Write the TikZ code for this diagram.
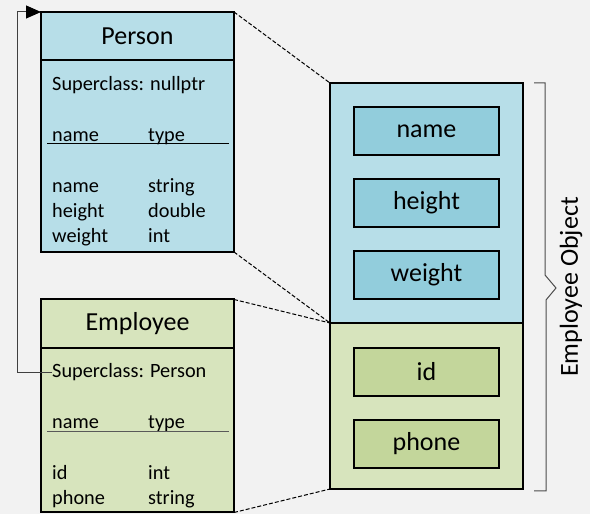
\documentclass[tikz,border=0pt]{standalone}
\usepackage{fontspec}
\setmainfont{Carlito}
\usetikzlibrary{positioning, arrows.meta}

\definecolor{bg}{HTML}{F2F2F2}
\definecolor{personblue}{HTML}{B7DEE8}
\definecolor{fieldblue}{HTML}{92CDDC}
\definecolor{empgreen}{HTML}{D7E4BD}
\definecolor{fieldgreen}{HTML}{C3D69B}

\tikzset{
  classbox/.style={draw, line width=2pt, outer sep=0pt, minimum width=193pt, minimum height=#1},
  classtitle/.style={inner sep=0pt, anchor=base, font=\fontsize{26}{30}\selectfont},
  field/.style={inner sep=0pt, anchor=base west, font=\fontsize{20.3}{24}\selectfont},
  member/.style={draw, line width=1.5pt, outer sep=0pt, minimum width=145pt, minimum height=48pt, font=\fontsize{26}{30}\selectfont},
  zoomline/.style={line width=1pt, dash pattern=on 4pt off 2pt},
}

\begin{document}
\begin{tikzpicture}[x=1pt, y=1pt]
\fill[bg] (0,0) rectangle (590,514);
\useasboundingbox (0,0) rectangle (590,514);

% Person class
\node[classbox=240pt, fill=personblue] (person) at (137.5,382) {};
\draw[line width=2pt] (41,454) -- (234,454);
\node[classtitle] (ptitle) at (137.5,469) {Person};
\node[field] (psup) at (52,423) {Superclass: nullptr};
\node[field] (pname) at (52,372) {name};
\node[field] (ptype) at (148,372) {type};
\draw[line width=1pt] (47,370) -- (229,370);
\foreach \n/\t/\y [count=\i] in {name/string/321, height/double/296, weight/int/271}{
  \node[field] (pn\i) at (52,\y) {\n};
  \node[field] (pt\i) at (148,\y) {\t};
}

% Employee class
\node[classbox=213pt, fill=empgreen] (employee) at (137.5,108) {};
\draw[line width=2pt] (41,166) -- (234,166);
\node[classtitle] (etitle) at (137.5,183) {Employee};
\node[field] (esup) at (52,136) {Superclass: Person};
\node[field] (ename) at (52,85) {name};
\node[field] (etype) at (148,85) {type};
\draw[line width=1pt, black!65] (47,82) -- (229,82);
\foreach \n/\t/\y [count=\i] in {id/int/34, phone/string/9}{
  \node[field] (en\i) at (52,\y) {\n};
  \node[field] (et\i) at (148,\y) {\t};
}

% superclass pointer
\draw[line width=1pt, black!75, -{Triangle[length=15pt, width=13pt, color=black]}]
  (esup.west) -- ++(-35,0) |- (person.north west);

% Employee object in memory
\node[classbox=240pt, fill=personblue, anchor=north west] (pobj) at (330,431) {};
\node[classbox=166pt, fill=empgreen, below=0pt of pobj] (eobj) {};
\node[member, fill=fieldblue] (mname) at (426.5,383) {name};
\node[member, fill=fieldblue, below=24pt of mname] (mheight) {height};
\node[member, fill=fieldblue, below=24pt of mheight] (mweight) {weight};
\node[member, fill=fieldgreen] (mid) at (426.5,142) {id};
\node[member, fill=fieldgreen, below=24pt of mid] (mphone) {phone};

% zoom lines
\draw[zoomline] (person.north east) -- (pobj.north west);
\draw[zoomline] (person.south east) -- (pobj.south west);
\draw[zoomline] (employee.north east) -- (eobj.north west);
\draw[zoomline] (employee.south east) -- (eobj.south west);

% brace
\draw[line width=1pt, black!70] (534,431) -- (545,431) -- (545,239) -- (556,226)
  -- (546,214) -- (546,23) -- (534,23);
\node[rotate=90, font=\fontsize{26}{30}\selectfont] (objlabel) at (571,227) {Employee Object};
\end{tikzpicture}
\end{document}
